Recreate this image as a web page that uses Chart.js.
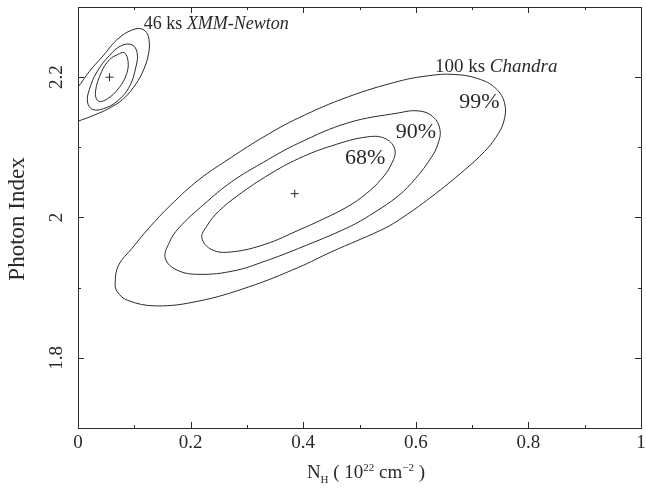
<!DOCTYPE html>
<html>
<head>
<meta charset="utf-8">
<script src="https://cdn.jsdelivr.net/npm/chart.js@4/dist/chart.umd.min.js"></script>
<style>
  body { margin: 0; background: #fff; }
  #wrap { width: 646px; height: 489px; position: relative; }
</style>
</head>
<body>
<div id="wrap"><canvas id="contours"></canvas></div>
<script>
// contour outlines, [NH, photon index]
const chandra68 = [[0.220,1.971],[0.229,1.988],[0.250,2.009],[0.285,2.032],[0.339,2.061],[0.392,2.084],[0.450,2.102],[0.515,2.115],[0.547,2.112],[0.563,2.096],[0.556,2.075],[0.538,2.054],[0.512,2.034],[0.480,2.016],[0.436,1.998],[0.392,1.982],[0.333,1.962],[0.273,1.951],[0.238,1.954]];
const chandra90 = [[0.155,1.942],[0.162,1.964],[0.179,1.985],[0.224,2.019],[0.273,2.051],[0.330,2.079],[0.392,2.106],[0.480,2.135],[0.569,2.149],[0.604,2.152],[0.630,2.144],[0.643,2.125],[0.639,2.104],[0.627,2.085],[0.600,2.056],[0.569,2.031],[0.524,2.006],[0.480,1.986],[0.392,1.956],[0.333,1.938],[0.277,1.924],[0.215,1.919],[0.176,1.925]];
const chandra99 = [[0.066,1.906],[0.072,1.932],[0.096,1.956],[0.126,1.985],[0.165,2.018],[0.215,2.054],[0.273,2.086],[0.330,2.115],[0.392,2.142],[0.480,2.172],[0.569,2.194],[0.622,2.202],[0.666,2.204],[0.710,2.198],[0.742,2.184],[0.758,2.162],[0.756,2.136],[0.742,2.114],[0.722,2.094],[0.687,2.068],[0.627,2.029],[0.569,1.996],[0.538,1.982],[0.450,1.951],[0.392,1.929],[0.303,1.901],[0.215,1.881],[0.139,1.874],[0.088,1.882],[0.070,1.894]];
const xmmInner = [[0.070,2.232],[0.082,2.235],[0.089,2.222],[0.086,2.204],[0.073,2.185],[0.052,2.169],[0.036,2.166],[0.031,2.179],[0.042,2.208],[0.056,2.225]];
const xmmMiddle = [[0.077,2.245],[0.096,2.246],[0.105,2.235],[0.103,2.215],[0.091,2.186],[0.070,2.166],[0.045,2.155],[0.026,2.154],[0.017,2.164],[0.020,2.182],[0.034,2.208],[0.056,2.231]];
const xmmOuter = [[-0.001,2.185],[0.020,2.208],[0.043,2.229],[0.073,2.256],[0.103,2.269],[0.119,2.266],[0.126,2.254],[0.125,2.232],[0.114,2.206],[0.098,2.185],[0.079,2.168],[0.056,2.156],[0.038,2.149],[0.006,2.139],[-0.011,2.136],[-0.022,2.154],[-0.015,2.175]];
const bestFits = [[0.385,2.034],[0.056,2.200]];

const xMajor = [0, 0.2, 0.4, 0.6, 0.8, 1];
const xMajorLabels = ['0', '0.2', '0.4', '0.6', '0.8', '1'];
const xMinor = [0.1, 0.3, 0.5, 0.7, 0.9];
const yMajor = [1.8, 2.0, 2.2];
const yMajorLabels = ['1.8', '2', '2.2'];
const yMinor = [1.9, 2.1];

const notes = [
  { parts: [['46 ks ', ''], ['XMM-Newton', 'italic ']], x: 0.117, y: 2.268, size: 18, align: 'left' },
  { parts: [['100 ks ', ''], ['Chandra', 'italic ']], x: 0.634, y: 2.207, size: 19, align: 'left' },
  { parts: [['99%', '']], x: 0.713, y: 2.156, size: 22, align: 'center' },
  { parts: [['90%', '']], x: 0.600, y: 2.114, size: 22, align: 'center' },
  { parts: [['68%', '']], x: 0.510, y: 2.076, size: 22, align: 'center' }
];

const FONT = '"Liberation Serif", "DejaVu Serif", serif';
const INK = '#2a2a2a';

function contour(pts) {
  return {
    type: 'line',
    data: pts.map(p => ({ x: p[0], y: p[1] })),
    closed: true,
    tension: 0.4,
    borderColor: INK,
    borderWidth: 1,
    pointRadius: 0,
    fill: false
  };
}

// turn the contour lines into closed smooth loops
const closeContours = {
  id: 'closeContours',
  afterDatasetsUpdate(chart) {
    chart.data.datasets.forEach((ds, i) => {
      if (!ds.closed) return;
      const line = chart.getDatasetMeta(i).dataset;
      if (!line) return;
      line._loop = true;
      line._fullLoop = true;
      delete line._segments;
      delete line._path;
      line._pointsUpdated = false;
      line.updateControlPoints(chart.chartArea, 'x');
    });
  }
};

const axisDecor = {
  id: 'axisDecor',
  afterDraw(chart) {
    const { ctx, chartArea: a, scales: { x, y } } = chart;
    ctx.save();
    ctx.strokeStyle = INK;
    ctx.lineWidth = 1;
    ctx.strokeRect(a.left + 0.5, a.top + 0.5, a.right - a.left, a.bottom - a.top);

    ctx.beginPath();
    const xt = (v, len) => {
      const p = Math.round(x.getPixelForValue(v)) + 0.5;
      ctx.moveTo(p, a.bottom); ctx.lineTo(p, a.bottom - len);
      ctx.moveTo(p, a.top); ctx.lineTo(p, a.top + len);
    };
    const yt = (v, len) => {
      const p = Math.round(y.getPixelForValue(v)) + 0.5;
      ctx.moveTo(a.left, p); ctx.lineTo(a.left + len, p);
      ctx.moveTo(a.right, p); ctx.lineTo(a.right - len, p);
    };
    xMajor.forEach(v => xt(v, 6));
    xMinor.forEach(v => xt(v, 3));
    yMajor.forEach(v => yt(v, 6));
    yMinor.forEach(v => yt(v, 3));
    ctx.stroke();

    ctx.fillStyle = INK;
    ctx.font = '19px ' + FONT;
    ctx.textAlign = 'center';
    ctx.textBaseline = 'middle';
    xMajor.forEach((v, i) => ctx.fillText(xMajorLabels[i], x.getPixelForValue(v), 443));
    yMajor.forEach((v, i) => {
      ctx.save();
      ctx.translate(57, y.getPixelForValue(v));
      ctx.rotate(-Math.PI / 2);
      ctx.fillText(yMajorLabels[i], 0, 0);
      ctx.restore();
    });

    // y title
    ctx.save();
    ctx.font = '23px ' + FONT;
    ctx.translate(18, 219);
    ctx.rotate(-Math.PI / 2);
    ctx.fillText('Photon Index', 0, 0);
    ctx.restore();

    // x title with sub/superscripts
    const parts = [['N', 19, 0], ['H', 11, 5], [' ( 10', 19, 0], ['22', 11, -7], [' cm', 19, 0], ['\u22122', 11, -7], [' )', 19, 0]];
    let w = 0;
    parts.forEach(p => { ctx.font = p[1] + 'px ' + FONT; w += ctx.measureText(p[0]).width; });
    let cx = 366 - w / 2;
    ctx.textAlign = 'left';
    ctx.textBaseline = 'alphabetic';
    parts.forEach(p => {
      ctx.font = p[1] + 'px ' + FONT;
      ctx.fillText(p[0], cx, 478 + p[2]);
      cx += ctx.measureText(p[0]).width;
    });

    // contour annotations
    notes.forEach(n => {
      let total = 0;
      n.parts.forEach(p => { ctx.font = p[1] + n.size + 'px ' + FONT; total += ctx.measureText(p[0]).width; });
      let px = x.getPixelForValue(n.x);
      if (n.align === 'center') px -= total / 2;
      const py = y.getPixelForValue(n.y);
      n.parts.forEach(p => {
        ctx.font = p[1] + n.size + 'px ' + FONT;
        ctx.fillText(p[0], px, py);
        px += ctx.measureText(p[0]).width;
      });
    });
    ctx.restore();
  }
};

new Chart(document.getElementById('contours'), {
  type: 'scatter',
  data: {
    datasets: [
      contour(chandra68),
      contour(chandra90),
      contour(chandra99),
      contour(xmmInner),
      contour(xmmMiddle),
      contour(xmmOuter),
      {
        data: bestFits.map(p => ({ x: p[0], y: p[1] })),
        pointStyle: 'cross',
        pointRadius: 4,
        borderColor: INK,
        borderWidth: 1,
        showLine: false
      }
    ]
  },
  options: {
    responsive: true,
    maintainAspectRatio: false,
    animation: false,
    layout: { padding: { top: 7, right: 2, left: 0, bottom: 0 } },
    elements: { line: { tension: 0.4 } },
    plugins: { legend: { display: false }, tooltip: { enabled: false } },
    scales: {
      x: {
        type: 'linear', min: 0, max: 1,
        grid: { display: false }, border: { display: false },
        ticks: { display: false },
        afterFit: s => { s.height = 61; }
      },
      y: {
        type: 'linear', min: 1.7, max: 2.3,
        grid: { display: false }, border: { display: false },
        ticks: { display: false },
        afterFit: s => { s.width = 78; }
      }
    }
  },
  plugins: [closeContours, axisDecor]
});
</script>
</body>
</html>
